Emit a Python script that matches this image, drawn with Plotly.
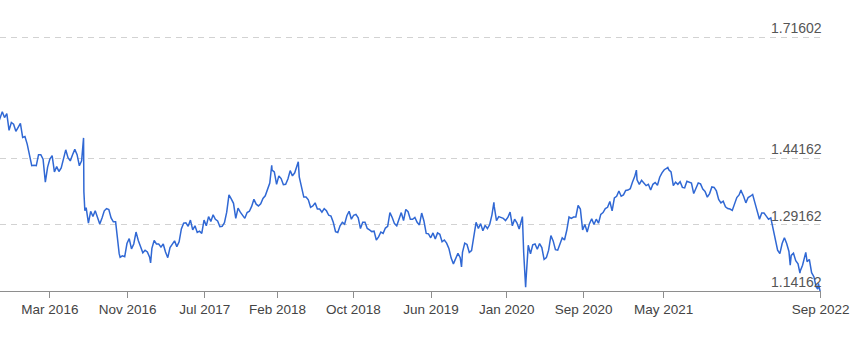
import pandas as pd
import plotly.graph_objects as go

# Weekly (Friday) GBP/USD closes, starting 2015-10-02
week_start = "2015-10-02"
weekly_close = [
    # 2015 (Oct 2 .. Dec 25)
    1.518, 1.532, 1.547, 1.534, 1.543, 1.505, 1.523, 1.519, 1.503, 1.512, 1.521, 1.489, 1.491,
    # 2016 (Jan 1 .. Dec 30)
    1.474, 1.453, 1.425, 1.426, 1.425, 1.450, 1.450, 1.440, 1.388, 1.422, 1.440, 1.448, 1.411,
    1.423, 1.412, 1.420, 1.440, 1.461, 1.443, 1.436, 1.450, 1.462, 1.450, 1.425, 1.436, 1.366,
    1.330, 1.295, 1.322, 1.310, 1.323, 1.308, 1.293, 1.307, 1.323, 1.328, 1.326, 1.307, 1.298,
    1.298, 1.243, 1.218, 1.221, 1.219, 1.249, 1.260, 1.237, 1.248, 1.275, 1.256, 1.244, 1.228, 1.234,
    # 2017 (Jan 6 .. Dec 29)
    1.230, 1.218, 1.238, 1.256, 1.248, 1.248, 1.241, 1.248, 1.230, 1.217, 1.240, 1.248, 1.255,
    1.242, 1.253, 1.282, 1.295, 1.296, 1.288, 1.302, 1.280, 1.289, 1.274, 1.277, 1.272, 1.302,
    1.289, 1.310, 1.299, 1.314, 1.304, 1.300, 1.287, 1.288, 1.296, 1.320, 1.359, 1.350, 1.340,
    1.306, 1.329, 1.320, 1.312, 1.306, 1.319, 1.322, 1.333, 1.349, 1.338, 1.334, 1.339, 1.351,
    # 2018 (Jan 5 .. Dec 28)
    1.357, 1.372, 1.386, 1.415, 1.411, 1.383, 1.402, 1.396, 1.382, 1.383, 1.395, 1.414, 1.402,
    1.409, 1.425, 1.400, 1.377, 1.354, 1.354, 1.348, 1.331, 1.334, 1.341, 1.327, 1.327, 1.320,
    1.328, 1.323, 1.313, 1.311, 1.297, 1.276, 1.274, 1.289, 1.297, 1.293, 1.312, 1.322, 1.304,
    1.313, 1.315, 1.307, 1.283, 1.297, 1.297, 1.283, 1.280, 1.276, 1.277, 1.257, 1.264, 1.275,
    # 2019 (Jan 4 .. Dec 27)
    1.272, 1.284, 1.288, 1.319, 1.308, 1.294, 1.289, 1.305, 1.319, 1.301, 1.326, 1.321, 1.304,
    1.304, 1.308, 1.297, 1.291, 1.318, 1.300, 1.272, 1.271, 1.262, 1.273, 1.259, 1.273, 1.270,
    1.253, 1.257, 1.250, 1.238, 1.216, 1.203, 1.216, 1.227, 1.217, 1.229, 1.250, 1.247, 1.229,
    1.233, 1.266, 1.297, 1.283, 1.294, 1.278, 1.290, 1.283, 1.292, 1.314, 1.333, 1.301, 1.310,
    # 2020 (Jan 3 .. Dec 25)
    1.308, 1.306, 1.301, 1.308, 1.320, 1.289, 1.304, 1.296, 1.282, 1.304, 1.228, 1.165, 1.245,
    1.226, 1.246, 1.248, 1.236, 1.249, 1.240, 1.213, 1.217, 1.234, 1.267, 1.255, 1.235, 1.234,
    1.248, 1.262, 1.257, 1.279, 1.309, 1.306, 1.309, 1.309, 1.335, 1.327, 1.280, 1.292, 1.275,
    1.294, 1.305, 1.292, 1.304, 1.295, 1.315, 1.319, 1.328, 1.331, 1.344, 1.323, 1.352, 1.356,
    # 2021 (Jan 1 .. Dec 31)
    1.368, 1.356, 1.359, 1.369, 1.370, 1.373, 1.388, 1.401, 1.393, 1.383, 1.392, 1.386, 1.380,
    1.383, 1.370, 1.383, 1.387, 1.381, 1.399, 1.409, 1.416, 1.419, 1.416, 1.411, 1.380, 1.388,
    1.383, 1.389, 1.376, 1.375, 1.390, 1.387, 1.386, 1.362, 1.376, 1.386, 1.384, 1.372, 1.367,
    1.354, 1.362, 1.377, 1.376, 1.368, 1.349, 1.341, 1.345, 1.332, 1.328, 1.327, 1.324, 1.340, 1.353,
    # 2022 (Jan 7 .. Sep 16)
    1.359, 1.367, 1.356, 1.341, 1.353, 1.356, 1.360, 1.341, 1.324, 1.304, 1.318, 1.318, 1.311,
    1.304, 1.307, 1.284, 1.257, 1.234, 1.226, 1.249, 1.262, 1.249, 1.231, 1.222, 1.227, 1.210,
    1.203, 1.187, 1.200, 1.218, 1.208, 1.213, 1.183, 1.174, 1.151, 1.159, 1.135,
]

# Intra-week extremes visible in the chart
extra_dates = ["2016-06-23", "2016-06-27", "2016-10-11", "2017-01-16", "2018-01-25",
               "2018-04-17", "2019-09-03", "2019-12-12", "2020-03-09", "2020-03-19",
               "2021-02-24", "2021-06-01", "2022-01-13", "2022-06-14", "2022-07-14",
               "2022-08-01", "2022-09-07"]
extra_values = [1.488, 1.323, 1.226, 1.205, 1.426, 1.434, 1.196, 1.342, 1.310, 1.150,
                1.415, 1.421, 1.370, 1.200, 1.182, 1.229, 1.146]

y_ticks = [1.14162, 1.29162, 1.44162, 1.71602]
y_tick_text = ["1.14162", "1.29162", "1.44162", "1.71602"]

x_tick_dates = ["2016-03-11", "2016-11-06", "2017-07-02", "2018-02-12", "2018-10-04",
                "2019-06-01", "2020-01-21", "2020-09-14", "2021-05-19", "2022-09-16"]
x_tick_text = ["Mar 2016", "Nov 2016", "Jul 2017", "Feb 2018", "Oct 2018",
               "Jun 2019", "Jan 2020", "Sep 2020", "May 2021", "Sep 2022"]

x_start, x_end = "2015-10-09", "2022-09-17"
y_min, y_max = 1.14162, 1.7185

weekly = pd.DataFrame({
    "date": pd.date_range(week_start, periods=len(weekly_close), freq="W-FRI"),
    "value": weekly_close,
})
extras = pd.DataFrame({"date": pd.to_datetime(extra_dates), "value": extra_values})
df = pd.concat([weekly, extras]).sort_values("date").reset_index(drop=True)

font_family = "Liberation Sans, Arial, Helvetica, sans-serif"

fig = go.Figure()
fig.add_trace(go.Scatter(
    x=df["date"], y=df["value"], mode="lines",
    line=dict(color="#3068d4", width=1.5),
    hoverinfo="x+y", showlegend=False,
))

# y-axis value labels, sitting just above their grid lines at the right edge
for val, txt in zip(y_ticks, y_tick_text):
    fig.add_annotation(
        x=1, xref="paper", y=val, yref="y",
        xanchor="right", yanchor="bottom",
        text=txt, showarrow=False, xshift=3, yshift=-1,
        font=dict(family=font_family, size=14, color="#555555"),
    )

fig.update_layout(
    width=850, height=345,
    margin=dict(l=0, r=29, t=36, b=54),
    paper_bgcolor="white", plot_bgcolor="white",
    font=dict(family=font_family, color="#444444"),
    xaxis=dict(
        type="date",
        range=[x_start, x_end],
        tickmode="array", tickvals=x_tick_dates, ticktext=x_tick_text,
        tickfont=dict(size=13.5, color="#444444"),
        showgrid=False, zeroline=False,
        showline=True, linecolor="#8e8e8e", linewidth=1,
        ticks="outside", ticklen=6, tickcolor="#8e8e8e", tickwidth=1,
    ),
    yaxis=dict(
        range=[y_min, y_max],
        tickmode="array", tickvals=y_ticks,
        showticklabels=False,
        showgrid=True, gridcolor="#d2d2d2", gridwidth=1, griddash="6px,5px",
        zeroline=False, showline=False, ticks="",
    ),
)

fig.write_html("out.html")
